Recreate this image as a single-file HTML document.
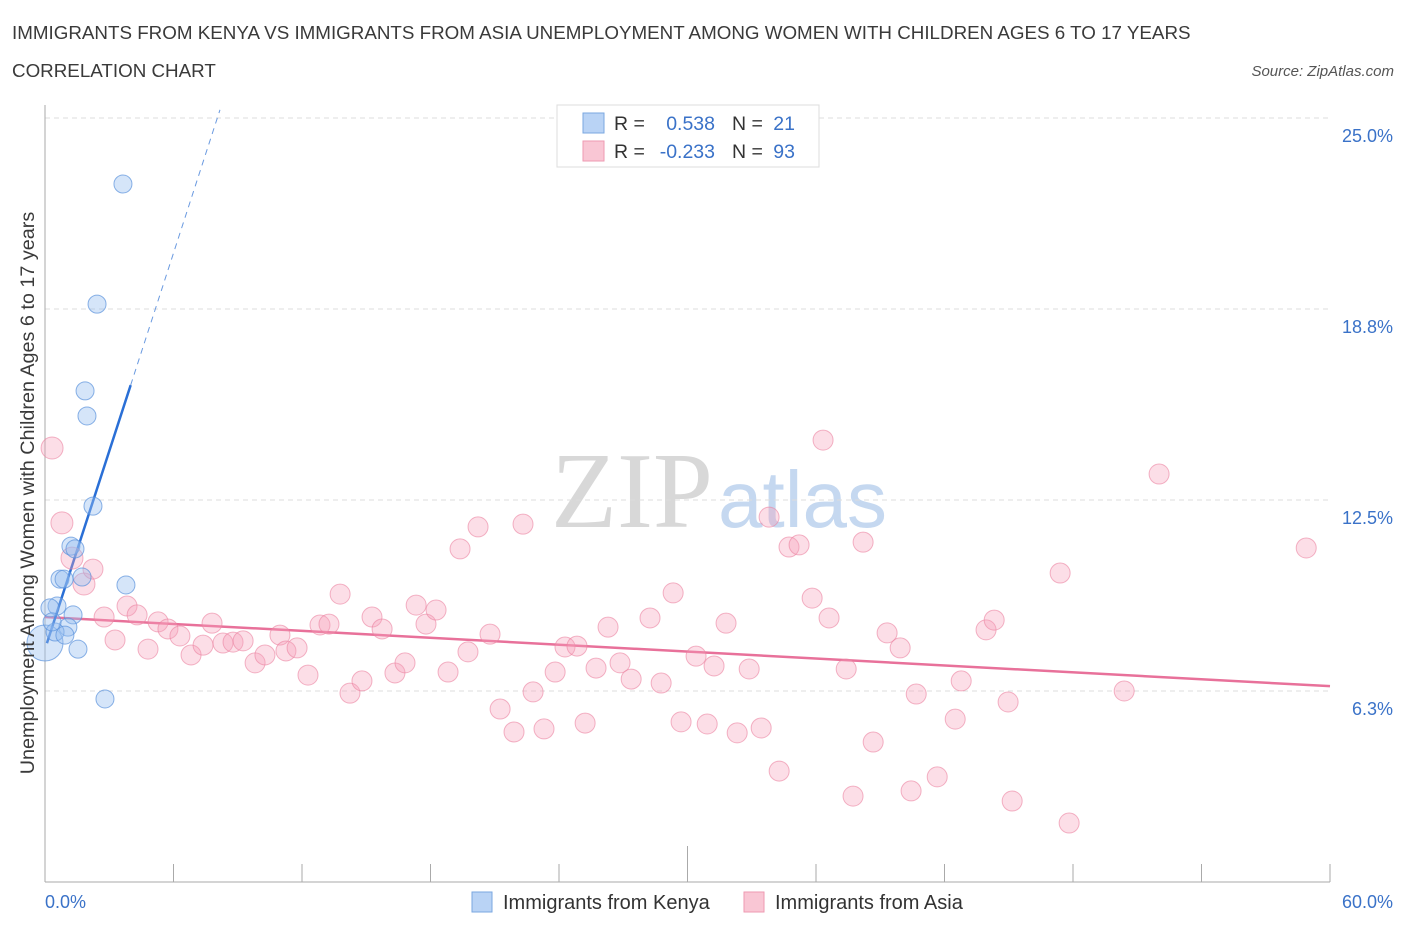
<!DOCTYPE html>
<html><head><meta charset="utf-8"><style>
body{margin:0;background:#fff;font-family:"Liberation Sans",sans-serif}
svg{display:block}
</style></head><body>
<svg width="1406" height="930" xmlns="http://www.w3.org/2000/svg" id="chart">
<text x="12" y="39" font-size="18.8" fill="#3a3a3a">IMMIGRANTS FROM KENYA VS IMMIGRANTS FROM ASIA UNEMPLOYMENT AMONG WOMEN WITH CHILDREN AGES 6 TO 17 YEARS</text>
<text x="12" y="77" font-size="18.8" fill="#3a3a3a">CORRELATION CHART</text>
<text x="1394" y="76" font-size="15" font-style="italic" fill="#555" text-anchor="end">Source: ZipAtlas.com</text>
<g>
<text x="713" y="527" font-size="108" font-family="Liberation Serif,serif" fill="#d8d8d8" text-anchor="end">ZIP</text>
<text x="718" y="527" font-size="80" fill="#c5d8f0">atlas</text>
</g>
<g id="grid"></g><g id="axes"></g><g id="trend"></g><g id="pts"></g>
<text transform="translate(34,493) rotate(-90)" font-size="19.8" fill="#3a3a3a" text-anchor="middle">Unemployment Among Women with Children Ages 6 to 17 years</text>
<g>
<rect x="557" y="105" width="262" height="62" fill="#fff" stroke="#ddd"/>
<rect x="583" y="113" width="21" height="20" fill="#b9d3f5" stroke="#7aa7e0"/>
<rect x="583" y="141" width="21" height="20" fill="#f9c6d4" stroke="#ee9ab2"/>
<text x="614" y="130" font-size="19.5" fill="#333">R =</text><text x="715" y="130" font-size="19.5" fill="#3a72c8" text-anchor="end">0.538</text>
<text x="732" y="130" font-size="19.5" fill="#333">N =</text><text x="795" y="130" font-size="19.5" fill="#3a72c8" text-anchor="end">21</text>
<text x="614" y="158" font-size="19.5" fill="#333">R =</text><text x="715" y="158" font-size="19.5" fill="#3a72c8" text-anchor="end">-0.233</text>
<text x="732" y="158" font-size="19.5" fill="#333">N =</text><text x="795" y="158" font-size="19.5" fill="#3a72c8" text-anchor="end">93</text>
</g>
<g>
<rect x="472" y="892" width="20" height="20" fill="#b9d3f5" stroke="#7aa7e0"/>
<text x="503" y="909" font-size="20" fill="#333">Immigrants from Kenya</text>
<rect x="744" y="892" width="20" height="20" fill="#f9c6d4" stroke="#ee9ab2"/>
<text x="775" y="909" font-size="20" fill="#333">Immigrants from Asia</text>
</g>
</svg>
<script>
const yTicks=[6.25,12.5,18.75,25];
const yTickLabels=["6.3%","12.5%","18.8%","25.0%"];
const xTickLabels=["0.0%","60.0%"];
const kenyaX=[3.64,2.43,1.87,1.96,2.24,1.21,1.40,0.70,0.89,1.73,3.78,0.56,0.23,1.31,0,1.07,0.47,0.93,1.54,2.80,0.33];
const kenyaY=[22.84,18.91,16.07,15.25,12.30,10.99,10.90,9.91,9.91,9.98,9.72,9.03,8.97,8.74,7.82,8.34,8.18,8.08,7.62,5.99,8.51];
const asiaX=[0.33,0.79,1.26,1.82,2.24,2.76,3.27,3.83,4.30,4.81,5.28,5.74,6.30,6.82,7.38,7.80,8.31,8.78,9.25,9.81,10.27,10.97,11.25,11.77,12.28,12.84,13.26,13.78,14.24,14.80,15.27,15.74,16.34,16.81,17.33,17.79,18.26,18.82,19.38,19.75,20.22,20.78,21.25,21.90,22.32,22.79,23.30,23.82,24.28,24.84,25.22,25.73,26.29,26.85,27.37,28.25,28.77,29.33,29.70,30.40,30.92,31.24,31.80,32.32,32.88,33.44,33.81,34.28,34.74,35.21,35.82,36.33,36.61,37.41,37.73,38.20,38.67,39.32,39.93,40.44,40.68,41.66,42.50,42.78,43.94,44.32,44.97,45.16,47.40,47.82,50.39,52.02,58.89];
const asiaY=[14.20,11.75,10.60,9.75,10.24,8.67,7.92,9.03,8.74,7.62,8.51,8.28,8.05,7.43,7.75,8.47,7.82,7.85,7.89,7.17,7.43,8.08,7.56,7.66,6.77,8.41,8.44,9.42,6.18,6.58,8.67,8.28,6.84,7.17,9.06,8.44,8.90,6.87,10.90,7.53,11.62,8.11,5.66,4.91,11.71,6.22,5.01,6.87,7.69,7.72,5.20,7.00,8.34,7.17,6.64,8.64,6.51,9.46,5.24,7.39,5.17,7.07,8.47,4.88,6.97,5.04,11.94,3.63,10.96,11.03,9.29,14.46,8.64,6.97,2.81,11.12,4.58,8.15,7.66,2.98,6.15,3.44,5.33,6.58,8.25,8.57,5.89,2.65,10.11,1.93,6.25,13.35,10.93];
const kenyaTrend=[7.62,2.16]; // intercept, slope
const asiaTrend=[8.67,-0.0377];
const X=v=>45+v*1285/60, Y=v=>882-v*30.56;
const NS="http://www.w3.org/2000/svg";
function mk(tag,attrs,parent){const e=document.createElementNS(NS,tag);for(const k in attrs)e.setAttribute(k,attrs[k]);document.getElementById(parent).appendChild(e);return e;}
yTicks.forEach((t,i)=>{
 const g=mk('line',{x1:45,x2:1330,y1:Y(t),y2:Y(t),stroke:'#ddd','stroke-dasharray':'5,4'},'grid');
 
 
 const l=mk('text',{x:1393,y:Y(t)+24,'font-size':18,fill:'#3a72c8','text-anchor':'end'},'grid');l.textContent=yTickLabels[i];
 
 
});
const ax=mk('line',{x1:45,x2:45,y1:105,y2:882,stroke:'#aaa'},'axes');


const bx=mk('line',{x1:45,x2:1330,y1:882,y2:882,stroke:'#aaa'},'axes');


for(let i=0;i<=10;i++){const tk=mk('line',{x1:X(i*6),x2:X(i*6),y1:i==5?846:864,y2:882,stroke:'#aaa'},'axes');
 
 }
const xl0=mk('text',{x:45,y:908,'font-size':18,fill:'#3a72c8'},'axes');xl0.textContent=xTickLabels[0];


const xl1=mk('text',{x:1393,y:908,'font-size':18,fill:'#3a72c8','text-anchor':'end'},'axes');xl1.textContent=xTickLabels[1];


asiaX.forEach((x,i)=>{const c=mk('circle',{cx:X(x),cy:Y(asiaY[i]),r:i<4?11:10,fill:'rgba(245,160,185,0.35)',stroke:'rgba(235,130,160,0.6)'},'pts');
 
 });
kenyaX.forEach((x,i)=>{const c=mk('circle',{cx:X(x),cy:Y(kenyaY[i]),r:i==14?18:9,fill:'rgba(150,190,240,0.4)',stroke:'rgba(90,145,220,0.7)'},'pts');
 
 });
const at=mk('line',{x1:X(0),y1:Y(asiaTrend[0]),x2:X(60),y2:Y(asiaTrend[0]+asiaTrend[1]*60),stroke:'#e8719a','stroke-width':2.5},'trend');


const kt=mk('line',{x1:X(0.09),y1:Y(kenyaTrend[0]+kenyaTrend[1]*0.09),x2:X(4.0),y2:Y(kenyaTrend[0]+kenyaTrend[1]*4.0),stroke:'#2a6fd6','stroke-width':2.5},'trend');


const kd=mk('line',{x1:X(4.0),y1:Y(kenyaTrend[0]+kenyaTrend[1]*4.0),x2:X(8.17),y2:Y(kenyaTrend[0]+kenyaTrend[1]*8.17),stroke:'#6a9ae0','stroke-width':1,'stroke-dasharray':'6,5'},'trend');


</script>
</body></html>
